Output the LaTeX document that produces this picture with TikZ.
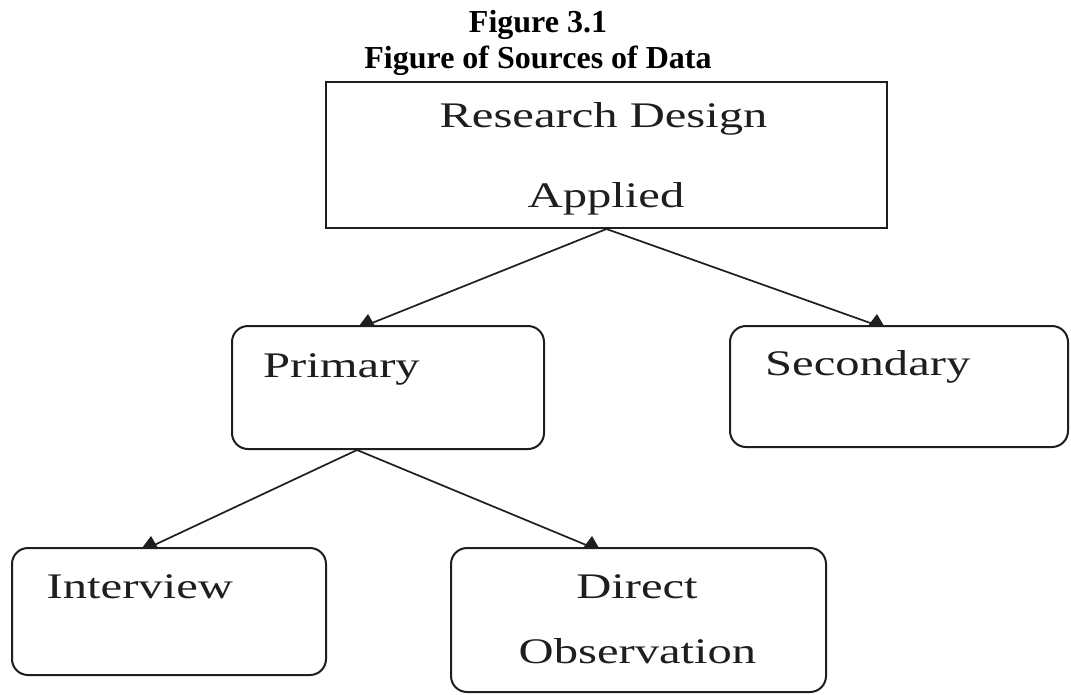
\documentclass[tikz,border=0pt]{standalone}
\usepackage{fontspec}
\setmainfont{Liberation Serif}
\newfontfamily\bodyf[FakeStretch=1.35]{Liberation Serif}
\usetikzlibrary{arrows.meta,calc}
\definecolor{ink}{HTML}{1E1E1E}
\tikzset{
  sqbox/.style={draw=ink, line width=2pt, inner sep=0pt, rectangle},
  rbox/.style={draw=ink, line width=2pt, inner sep=0pt, rectangle, rounded corners=16pt},
  txt/.style={inner sep=0pt, text=ink, font=\bodyf\fontsize{36}{40}\selectfont},
  ttl/.style={inner sep=0pt, text=black, font=\bfseries\fontsize{32}{36}\selectfont, anchor=base},
  conn/.style={draw=ink, line width=1.7pt},
  tipup/.style={fill=ink}
}
\newcommand{\uptip}[1]{\fill[tipup] (#1) +(-8,1) -- +(1,-11) -- +(8,1) -- cycle;}
\begin{document}
\begin{tikzpicture}[x=1pt,y=-1pt]
\fill[white] (0,0) rectangle (1071,694);
\useasboundingbox (0,0) rectangle (1071,694);
% title
\node[ttl] (t1) at (538,32) {Figure 3.1};
\node[ttl] (t2) at (538,68) {Figure of Sources of Data};
% boxes
\node[sqbox, minimum width=561pt, minimum height=146pt] (research) at (606.5,155) {};
\node[rbox, minimum width=312pt, minimum height=123pt] (primary) at (388,387.5) {};
\node[rbox, minimum width=338pt, minimum height=121pt] (secondary) at (899,386.5) {};
\node[rbox, minimum width=314pt, minimum height=127pt] (interview) at (169,611.5) {};
\node[rbox, minimum width=375pt, minimum height=144pt] (direct) at (638.5,620) {};
% texts
\node[txt, anchor=base] (rd) at (603.5,127) {Research Design};
\node[txt, anchor=base] (ap) at (606,207) {Applied};
\node[txt, anchor=base west] (pr) at (263,377) {Primary};
\node[txt, anchor=base west] (se) at (765,375) {Secondary};
\node[txt, anchor=base west] (iv) at (46.5,598) {Interview};
\node[txt, anchor=base] (di) at (637,598) {Direct};
\node[txt, anchor=base] (ob) at (637.5,663) {Observation};
% connector end points on the box borders
\coordinate (pin) at ($(primary.north west)+(136,0)$);
\coordinate (sin) at ($(secondary.north west)+(147,0)$);
\coordinate (pout) at ($(primary.south west)+(126,0)$);
\coordinate (iin) at ($(interview.north west)+(139,0)$);
\coordinate (din) at ($(direct.north west)+(141,0)$);
% connectors
\draw[conn] (research.south) -- (pin);
\draw[conn] (research.south) -- (sin);
\draw[conn] (pout) -- (iin);
\draw[conn] (pout) -- (din);
\uptip{pin}
\uptip{sin}
\uptip{iin}
\uptip{din}
\end{tikzpicture}
\end{document}
